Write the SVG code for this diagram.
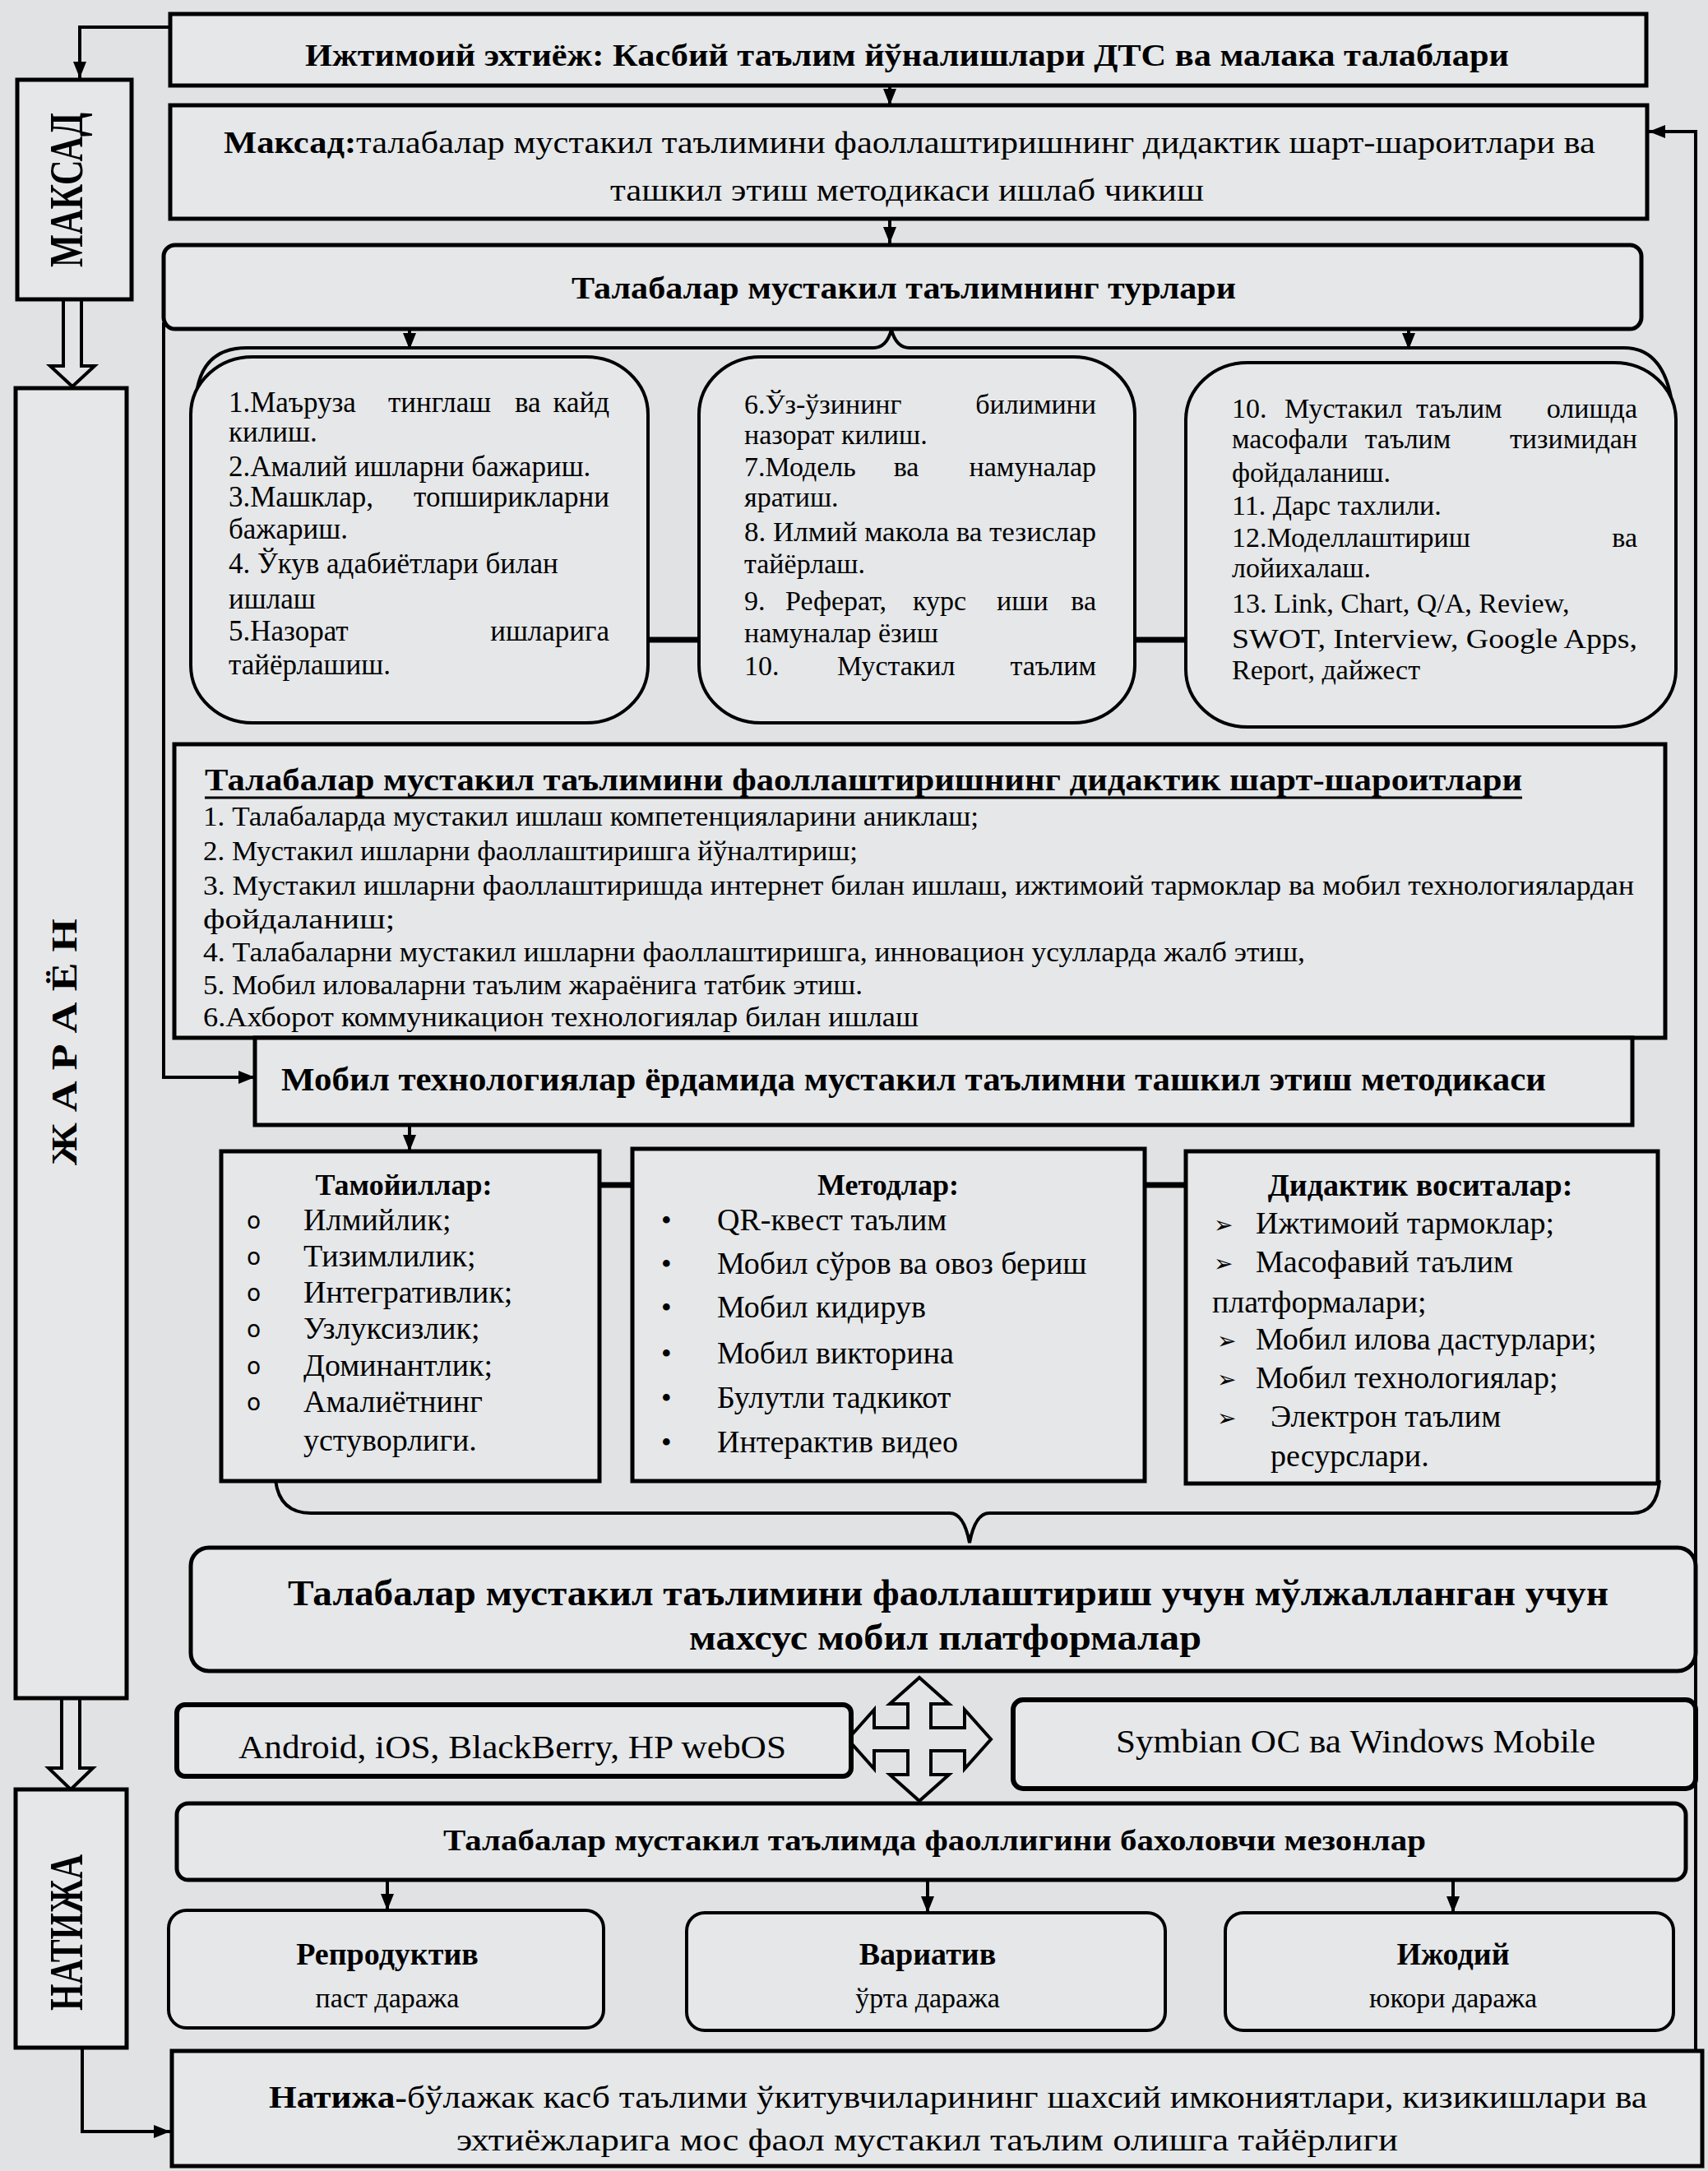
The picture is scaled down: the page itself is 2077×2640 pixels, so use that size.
<svg xmlns="http://www.w3.org/2000/svg" width="2077" height="2640" viewBox="0 0 2077 2640">
<defs>
<marker id="ah" markerUnits="userSpaceOnUse" markerWidth="22" markerHeight="20" refX="20" refY="10" orient="auto">
<path d="M0,2 L20,10 L0,18 Z" fill="#000"/>
</marker>
<style>
.bx{fill:#e5e7e9;stroke:#000;stroke-width:5}
.rb{fill:#e5e7e9;stroke:#000;stroke-width:4}
.ln{fill:none;stroke:#000;stroke-width:4}
.lna{fill:none;stroke:#000;stroke-width:4;marker-end:url(#ah)}
.hol{fill:#e2e4e6;stroke:#000;stroke-width:4;stroke-linejoin:miter}
text{font-family:"Liberation Serif","Times New Roman",serif;fill:#000}
.b{font-weight:bold}
.t33{font-size:33px}
.t34{font-size:34px}
.t35{font-size:35px}
.t36{font-size:36px}
.t38{font-size:38px}
.t40{font-size:40px}
.t44{font-size:44px}
.c{text-anchor:middle}
.e{text-anchor:end}
.sym{font-family:"DejaVu Sans","Liberation Sans",sans-serif}
</style>
</defs>
<rect x="0" y="0" width="2077" height="2640" fill="#e0e2e4"/>

<g id="connectors">
<path class="lna" d="M209 33 H97 V95"/>
<path class="lna" d="M1082 104 V128"/>
<path class="lna" d="M1082 266 V296"/>
<path class="lna" d="M498 402 V425"/>
<path class="lna" d="M1713 402 V425"/>
<path class="lna" d="M199 392 V1310 H310"/>
<path class="lna" d="M498 1368 V1400"/>
<path class="lna" d="M471 2286 V2323"/>
<path class="lna" d="M1128 2280 V2326"/>
<path class="lna" d="M1767 2286 V2326"/>
<path class="lna" d="M100 2490 V2592 H207"/>
<path class="lna" d="M2062 2494 V160 H2005"/>
<path class="ln" style="stroke-width:7" d="M788 778 H850 M1380 778 H1442 M729 1441 H769 M1392 1441 H1442"/>
<path class="ln" d="M238 488 Q242 423 300 423 L1062 423 Q1078 423 1084 401 Q1090 423 1106 423 L1975 423 Q2028 423 2035 505"/>
<path class="ln" d="M335 1800 Q340 1840 378 1840 L1155 1840 Q1172 1840 1179 1876 Q1186 1840 1203 1840 L1985 1840 Q2015 1840 2018 1800"/>
<path class="hol" d="M77 364 V445 H61 L88 470 L115 445 H99 V364"/>
<path class="hol" d="M75 2065 V2150 H59 L86 2176 L113 2150 H97 V2065"/>
<polygon class="hol" points="1118,2040 1154,2072 1132,2072 1132,2101 1173,2101 1173,2079 1205,2115 1173,2151 1173,2129 1132,2129 1132,2158 1154,2158 1118,2190 1082,2158 1104,2158 1104,2129 1063,2129 1063,2151 1031,2115 1063,2079 1063,2101 1104,2101 1104,2072 1082,2072"/>
</g>

<g id="maksad-side">
<rect class="bx" x="21" y="97" width="139" height="267"/>
<text class="b" font-size="56" text-anchor="middle" transform="translate(100,231) rotate(-90)" textLength="188" lengthAdjust="spacingAndGlyphs">МАКСАД</text>
</g>
<g id="jarayon-side">
<rect class="bx" x="19" y="472" width="135" height="1593"/>
<text class="b" font-size="44" text-anchor="middle" transform="translate(93,1267) rotate(-90)" textLength="300" lengthAdjust="spacingAndGlyphs">Ж А Р А Ё Н</text>
</g>
<g id="natija-side">
<rect class="bx" x="19" y="2176" width="135" height="314"/>
<text class="b" font-size="56" text-anchor="middle" transform="translate(100,2350) rotate(-90)" textLength="190" lengthAdjust="spacingAndGlyphs">НАТИЖА</text>
</g>

<g id="ehtiyoj">
<rect class="bx" x="207" y="17" width="1795" height="87"/>
<text class="b t38" x="371" y="80" textLength="1464" lengthAdjust="spacingAndGlyphs">Ижтимоий эхтиёж: Касбий таълим йўналишлари ДТС ва малака талаблари</text>
</g>

<g id="maqsad">
<rect class="bx" x="207" y="128" width="1796" height="138"/>
<text class="t38" x="272" y="186" textLength="1668" lengthAdjust="spacingAndGlyphs"><tspan class="b">Максад:</tspan>талабалар мустакил таълимини фаоллаштиришнинг дидактик шарт-шароитлари ва</text>
<text class="t38" x="742" y="244" textLength="722" lengthAdjust="spacingAndGlyphs">ташкил этиш методикаси ишлаб чикиш</text>
</g>

<g id="turlari">
<rect class="bx" x="199" y="298" width="1797" height="102" rx="14"/>
<text class="b t38" x="695" y="363" textLength="808" lengthAdjust="spacingAndGlyphs">Талабалар мустакил таълимнинг турлари</text>
</g>

<g id="tur1">
<rect class="rb" x="232" y="434" width="556" height="445" rx="75" ry="70"/>
<text class="t35" x="278" y="501">1.Маъруза</text><text class="t35" x="472" y="501">тинглаш</text><text class="t35" x="626" y="501">ва</text><text class="t35 e" x="741" y="501">кайд</text>
<text class="t35" x="278" y="537">килиш.</text>
<text class="t35" x="278" y="579">2.Амалий ишларни бажариш.</text>
<text class="t35" x="278" y="616">3.Машклар,</text><text class="t35 e" x="741" y="616">топширикларни</text>
<text class="t35" x="278" y="655">бажариш.</text>
<text class="t35" x="278" y="697">4. Ўкув адабиётлари билан</text>
<text class="t35" x="278" y="740">ишлаш</text>
<text class="t35" x="278" y="779">5.Назорат</text><text class="t35 e" x="741" y="779">ишларига</text>
<text class="t35" x="278" y="820">тайёрлашиш.</text>
</g>

<g id="tur2">
<rect class="rb" x="850" y="434" width="530" height="445" rx="75" ry="70"/>
<text class="t34" x="905" y="503">6.Ўз-ўзининг</text><text class="t34 e" x="1333" y="503">билимини</text>
<text class="t34" x="905" y="540">назорат килиш.</text>
<text class="t34" x="905" y="579">7.Модель</text><text class="t34 c" x="1102" y="579">ва</text><text class="t34 e" x="1333" y="579">намуналар</text>
<text class="t34" x="905" y="616">яратиш.</text>
<text class="t34" x="905" y="658" textLength="428" lengthAdjust="spacingAndGlyphs">8. Илмий макола ва тезислар</text>
<text class="t34" x="905" y="697">тайёрлаш.</text>
<text class="t34" x="905" y="742">9.</text><text class="t34" x="955" y="742">Реферат,</text><text class="t34" x="1110" y="742">курс</text><text class="t34" x="1212" y="742">иши</text><text class="t34 e" x="1333" y="742">ва</text>
<text class="t34" x="905" y="781">намуналар ёзиш</text>
<text class="t34" x="905" y="821">10.</text><text class="t34" x="1018" y="821">Мустакил</text><text class="t34 e" x="1333" y="821">таълим</text>
</g>

<g id="tur3">
<rect class="rb" x="1442" y="441" width="596" height="443" rx="75" ry="70"/>
<text class="t34" x="1498" y="508">10.</text><text class="t34" x="1562" y="508">Мустакил</text><text class="t34" x="1722" y="508">таълим</text><text class="t34 e" x="1991" y="508">олишда</text>
<text class="t34" x="1498" y="545">масофали</text><text class="t34 c" x="1712" y="545">таълим</text><text class="t34 e" x="1991" y="545">тизимидан</text>
<text class="t34" x="1498" y="586">фойдаланиш.</text>
<text class="t34" x="1498" y="626">11. Дарс тахлили.</text>
<text class="t34" x="1498" y="665">12.Моделлаштириш</text><text class="t34 e" x="1991" y="665">ва</text>
<text class="t34" x="1498" y="702">лойихалаш.</text>
<text class="t34" x="1498" y="745">13. Link, Chart, Q/A, Review,</text>
<text class="t34" x="1498" y="788" textLength="493" lengthAdjust="spacingAndGlyphs">SWOT, Interview, Google Apps,</text>
<text class="t34" x="1498" y="826">Report, дайжест</text>
</g>

<g id="shart">
<rect class="bx" x="212" y="905" width="1813" height="357"/>
<text class="b t38" x="249" y="961" textLength="1602" lengthAdjust="spacingAndGlyphs">Талабалар мустакил таълимини фаоллаштиришнинг дидактик шарт-шароитлари</text>
<line x1="249" y1="970" x2="1851" y2="970" stroke="#000" stroke-width="3"/>
<text class="t33" x="247" y="1004" textLength="943" lengthAdjust="spacingAndGlyphs">1. Талабаларда мустакил ишлаш компетенцияларини аниклаш;</text>
<text class="t33" x="247" y="1046" textLength="796" lengthAdjust="spacingAndGlyphs">2. Мустакил ишларни фаоллаштиришга йўналтириш;</text>
<text class="t33" x="247" y="1088" textLength="1740" lengthAdjust="spacingAndGlyphs">3. Мустакил ишларни фаоллаштиришда интернет билан ишлаш, ижтимоий тармоклар ва мобил технологиялардан</text>
<text class="t33" x="247" y="1129" textLength="233" lengthAdjust="spacingAndGlyphs">фойдаланиш;</text>
<text class="t33" x="247" y="1169" textLength="1340" lengthAdjust="spacingAndGlyphs">4. Талабаларни мустакил ишларни фаоллаштиришга, инновацион усулларда жалб этиш,</text>
<text class="t33" x="247" y="1209" textLength="802" lengthAdjust="spacingAndGlyphs">5. Мобил иловаларни таълим жараёнига татбик этиш.</text>
<text class="t33" x="247" y="1248" textLength="870" lengthAdjust="spacingAndGlyphs">6.Ахборот коммуникацион технологиялар билан ишлаш</text>
</g>

<g id="metodika">
<rect class="bx" x="310" y="1262" width="1675" height="106"/>
<text class="b t40" x="342" y="1326" textLength="1538" lengthAdjust="spacingAndGlyphs">Мобил технологиялар ёрдамида мустакил таълимни ташкил этиш методикаси</text>
</g>

<g id="tamoyillar">
<rect class="bx" x="269" y="1400" width="460" height="401"/>
<text class="b t36 c" x="491" y="1453">Тамойиллар:</text>
<text class="sym" font-size="28" x="300" y="1494">o</text><text class="t38" x="369" y="1496">Илмийлик;</text>
<text class="sym" font-size="28" x="300" y="1538">o</text><text class="t38" x="369" y="1540">Тизимлилик;</text>
<text class="sym" font-size="28" x="300" y="1582">o</text><text class="t38" x="369" y="1584">Интегративлик;</text>
<text class="sym" font-size="28" x="300" y="1626">o</text><text class="t38" x="369" y="1628">Узлуксизлик;</text>
<text class="sym" font-size="28" x="300" y="1671">o</text><text class="t38" x="369" y="1673">Доминантлик;</text>
<text class="sym" font-size="28" x="300" y="1715">o</text><text class="t38" x="369" y="1717">Амалиётнинг</text>
<text class="t38" x="369" y="1764">устуворлиги.</text>
</g>

<g id="metodlar">
<rect class="bx" x="769" y="1397" width="623" height="404"/>
<text class="b t36 c" x="1080" y="1453">Методлар:</text>
<text class="t36" x="804" y="1496">•</text><text class="t38" x="872" y="1496">QR-квест таълим</text>
<text class="t36" x="804" y="1549">•</text><text class="t38" x="872" y="1549">Мобил сўров ва овоз бериш</text>
<text class="t36" x="804" y="1602">•</text><text class="t38" x="872" y="1602">Мобил кидирув</text>
<text class="t36" x="804" y="1658">•</text><text class="t38" x="872" y="1658">Мобил викторина</text>
<text class="t36" x="804" y="1712">•</text><text class="t38" x="872" y="1712">Булутли тадкикот</text>
<text class="t36" x="804" y="1766">•</text><text class="t38" x="872" y="1766">Интерактив видео</text>
</g>

<g id="vositalar">
<rect class="bx" x="1442" y="1400" width="574" height="404"/>
<text class="b t38 c" x="1727" y="1454">Дидактик воситалар:</text>
<text class="sym" font-size="28" x="1476" y="1499">➢</text><text class="t38" x="1527" y="1500">Ижтимоий тармоклар;</text>
<text class="sym" font-size="28" x="1476" y="1546">➢</text><text class="t38" x="1527" y="1547">Масофавий таълим</text>
<text class="t38" x="1474" y="1596">платформалари;</text>
<text class="sym" font-size="28" x="1480" y="1640">➢</text><text class="t38" x="1527" y="1641">Мобил илова дастурлари;</text>
<text class="sym" font-size="28" x="1480" y="1687">➢</text><text class="t38" x="1527" y="1688">Мобил технологиялар;</text>
<text class="sym" font-size="28" x="1480" y="1734">➢</text><text class="t38" x="1545" y="1735">Электрон таълим</text>
<text class="t38" x="1545" y="1783">ресурслари.</text>
</g>

<g id="platformalar">
<rect class="bx" x="232" y="1882" width="1830" height="150" rx="22"/>
<text class="b t44" x="350" y="1952" textLength="1606" lengthAdjust="spacingAndGlyphs">Талабалар мустакил таълимини фаоллаштириш учун мўлжалланган учун</text>
<text class="b t44" x="838" y="2006" textLength="623" lengthAdjust="spacingAndGlyphs">махсус мобил платформалар</text>
</g>

<g id="android">
<rect class="bx" x="215" y="2073" width="820" height="87" rx="10" style="stroke-width:6"/>
<text class="t40" x="290" y="2138" textLength="666" lengthAdjust="spacingAndGlyphs">Android, iOS, BlackBerry, HP webOS</text>
</g>

<g id="symbian">
<rect class="bx" x="1232" y="2067" width="830" height="108" rx="12" style="stroke-width:6"/>
<text class="t40" x="1357" y="2131" textLength="583" lengthAdjust="spacingAndGlyphs">Symbian ОС ва Windows Mobile</text>
</g>

<g id="mezonlar">
<rect class="bx" x="215" y="2193" width="1835" height="93" rx="14"/>
<text class="b t36" x="539" y="2250" textLength="1195" lengthAdjust="spacingAndGlyphs">Талабалар мустакил таълимда  фаоллигини бахоловчи мезонлар</text>
</g>

<g id="reproduktiv">
<rect class="rb" x="205" y="2323" width="529" height="143" rx="22"/>
<text class="b t38 c" x="471" y="2389">Репродуктив</text>
<text class="t34 c" x="471" y="2441">паст даража</text>
</g>
<g id="variativ">
<rect class="rb" x="835" y="2326" width="582" height="143" rx="22"/>
<text class="b t38 c" x="1128" y="2389">Вариатив</text>
<text class="t34 c" x="1128" y="2441">ўрта даража</text>
</g>
<g id="ijodiy">
<rect class="rb" x="1490" y="2326" width="545" height="143" rx="22"/>
<text class="b t38 c" x="1767" y="2389">Ижодий</text>
<text class="t34 c" x="1767" y="2441">юкори даража</text>
</g>

<g id="natija">
<rect class="bx" x="209" y="2494" width="1861" height="140"/>
<text class="t38" x="327" y="2563" textLength="1676" lengthAdjust="spacingAndGlyphs"><tspan class="b">Натижа-</tspan>бўлажак касб таълими ўкитувчиларининг шахсий имкониятлари, кизикишлари ва</text>
<text class="t38" x="555" y="2615" textLength="1145" lengthAdjust="spacingAndGlyphs">эхтиёжларига мос фаол мустакил таълим олишга тайёрлиги</text>
</g>
</svg>
